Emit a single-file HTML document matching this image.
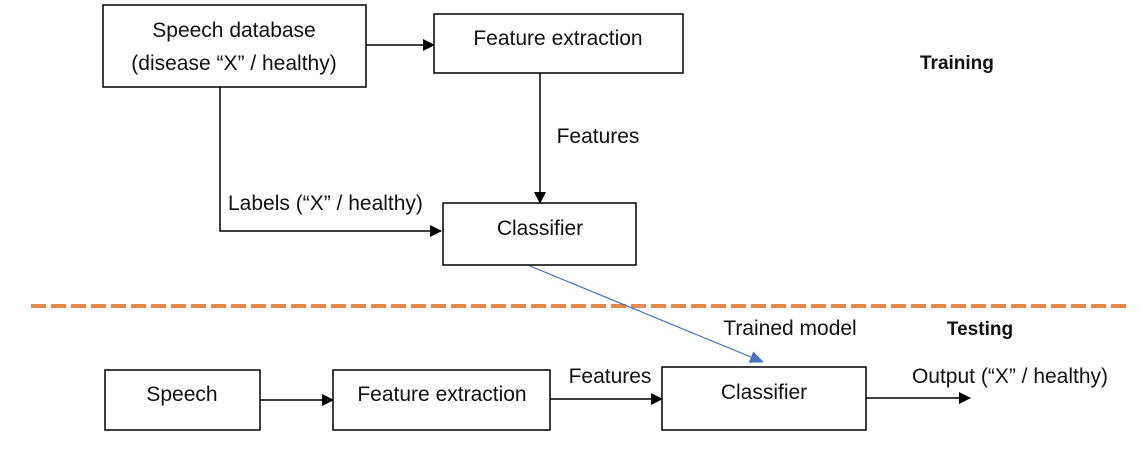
<!DOCTYPE html>
<html><head><meta charset="utf-8"><style>
body{margin:0;background:#fff;}
svg text{font-family:"Liberation Sans",sans-serif;font-size:21px;fill:#111;}
</style></head><body>
<svg width="1142" height="446" viewBox="0 0 1142 446" xmlns="http://www.w3.org/2000/svg">
<defs>
<marker id="a" markerWidth="12" markerHeight="12" refX="11" refY="6" orient="auto" markerUnits="userSpaceOnUse"><path d="M0,0 L12,6 L0,12z" fill="#000"/></marker>
<marker id="b" markerWidth="14" markerHeight="12" refX="13" refY="6" orient="auto" markerUnits="userSpaceOnUse"><path d="M0,0 L14,6 L0,12z" fill="#4472C4"/></marker>
</defs>
<g fill="none" stroke="#000" stroke-width="1.5">
<rect x="103" y="5" width="263" height="82"/>
<rect x="434" y="14" width="249" height="59"/>
<rect x="443" y="203" width="193" height="62"/>
<rect x="105" y="370" width="155" height="60"/>
<rect x="333" y="370" width="217" height="60"/>
<rect x="662" y="367" width="204" height="63"/>
<line x1="366" y1="45" x2="434" y2="45" marker-end="url(#a)"/>
<line x1="540" y1="73" x2="540" y2="203" marker-end="url(#a)"/>
<polyline points="220,87 220,231 441,231" marker-end="url(#a)"/>
<line x1="260" y1="400" x2="333" y2="400" marker-end="url(#a)"/>
<line x1="550" y1="399" x2="662" y2="399" marker-end="url(#a)"/>
<line x1="866" y1="398" x2="970" y2="398" marker-end="url(#a)"/>
</g>
<line x1="31" y1="306" x2="1128" y2="306" stroke="#E5894A" stroke-width="4" stroke-dasharray="15,5"/>
<line x1="530" y1="266" x2="763" y2="362" stroke="#4472C4" stroke-width="1.2" marker-end="url(#b)"/>
<text x="234" y="37" text-anchor="middle">Speech database</text>
<text x="234" y="70" text-anchor="middle">(disease “X” / healthy)</text>
<text x="558" y="45" text-anchor="middle">Feature extraction</text>
<text x="598" y="143" text-anchor="middle">Features</text>
<text x="228" y="210">Labels (“X” / healthy)</text>
<text x="540" y="235" text-anchor="middle">Classifier</text>
<text x="920" y="69" font-weight="bold" style="font-size:19px">Training</text>
<text x="790" y="335" text-anchor="middle">Trained model</text>
<text x="980" y="335" text-anchor="middle" font-weight="bold" style="font-size:19px">Testing</text>
<text x="182" y="401" text-anchor="middle">Speech</text>
<text x="442" y="401" text-anchor="middle">Feature extraction</text>
<text x="610" y="383" text-anchor="middle">Features</text>
<text x="764" y="399" text-anchor="middle">Classifier</text>
<text x="1010" y="383" text-anchor="middle">Output (“X” / healthy)</text>
</svg>
</body></html>
